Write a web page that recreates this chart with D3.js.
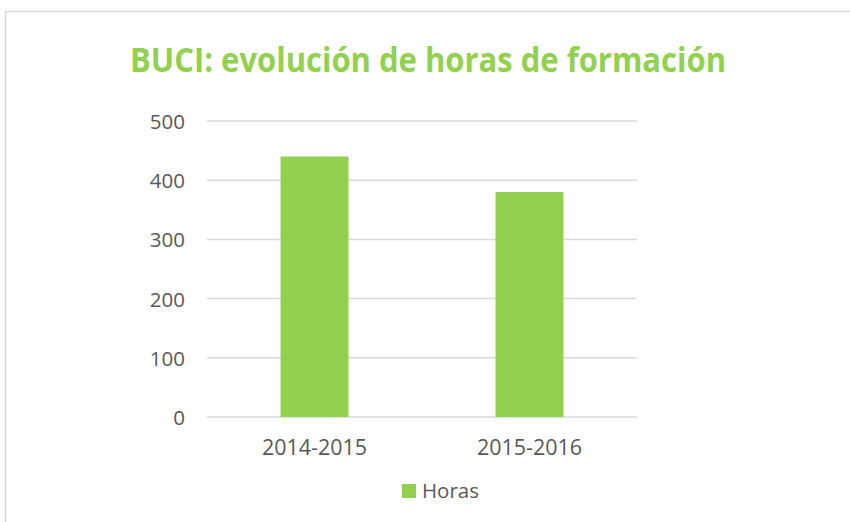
<!DOCTYPE html>
<html>
<head>
<meta charset="utf-8">
<script src="https://cdn.jsdelivr.net/npm/d3@7"></script>
<style>
  body { margin: 0; background: #fff; }
  text { font-family: "Open Sans", "Liberation Sans", sans-serif; }
</style>
</head>
<body>
<div id="chart"></div>
<script>
// data
var categories = ["2014-2015", "2015-2016"];
var horas = [440, 380];
var yTicks = [0, 100, 200, 300, 400, 500];
var seriesName = "Horas";
var titleText = "BUCI: evolución de horas de formación";

var width = 850, height = 522;
var green = "#92d050";
var textColor = "#595959";
var gridColor = "#d9d9d9";

var svg = d3.select("#chart")
    .append("svg")
    .attr("width", width)
    .attr("height", height);

// chart frame (runs off the page on the right/bottom)
svg.append("rect")
    .attr("x", 5.5)
    .attr("y", 11.5)
    .attr("width", 900)
    .attr("height", 600)
    .attr("fill", "#fff")
    .attr("stroke", gridColor)
    .attr("stroke-width", 1.5);

var margin = {left: 207, right: 213, top: 121, bottom: 105};

var x = d3.scaleBand()
    .domain(categories)
    .range([margin.left, width - margin.right])
    .paddingInner(0.684)
    .paddingOuter(0.342);

var y = d3.scaleLinear()
    .domain([0, 500])
    .range([height - margin.bottom, margin.top]);

// title
svg.append("text")
    .attr("x", 428)
    .attr("y", 72)
    .attr("text-anchor", "middle")
    .attr("fill", green)
    .attr("font-weight", 700)
    .attr("font-size", 34)
    .attr("textLength", 596)
    .attr("lengthAdjust", "spacingAndGlyphs")
    .text(titleText);

// gridlines
svg.append("g")
    .selectAll("line")
    .data(yTicks)
    .enter()
    .append("line")
    .attr("x1", margin.left)
    .attr("x2", width - margin.right)
    .attr("y1", function(d) { return y(d); })
    .attr("y2", function(d) { return y(d); })
    .attr("stroke", gridColor)
    .attr("stroke-width", 1.5);

// y axis labels
var yAxis = d3.axisLeft(y).tickValues(yTicks).tickSize(0).tickPadding(22);
var gy = svg.append("g")
    .attr("transform", "translate(" + margin.left + ",0)")
    .call(yAxis);
gy.select(".domain").remove();
gy.selectAll("text")
    .attr("fill", textColor)
    .attr("font-size", 20.5)
    .attr("dy", "0.37em")
    .style("font-family", "'Open Sans', sans-serif");

// bars
svg.append("g")
    .selectAll("rect")
    .data(horas)
    .enter()
    .append("rect")
    .attr("x", function(d, i) { return x(categories[i]); })
    .attr("y", function(d) { return y(d); })
    .attr("width", x.bandwidth())
    .attr("height", function(d) { return y(0) - y(d); })
    .attr("fill", green);

// x axis labels
var xAxis = d3.axisBottom(x).tickSize(0).tickPadding(23);
var gx = svg.append("g")
    .attr("transform", "translate(0," + y(0) + ")")
    .call(xAxis);
gx.select(".domain").remove();
gx.selectAll("text")
    .attr("fill", textColor)
    .attr("font-size", 21.5)
    .style("font-family", "'Open Sans', sans-serif");

// legend
var legend = svg.append("g").attr("transform", "translate(402,484)");
legend.append("rect")
    .attr("width", 14)
    .attr("height", 14)
    .attr("fill", green);
legend.append("text")
    .attr("x", 20)
    .attr("y", 13.5)
    .attr("fill", textColor)
    .attr("font-size", 20.5)
    .text(seriesName);
</script>
</body>
</html>
